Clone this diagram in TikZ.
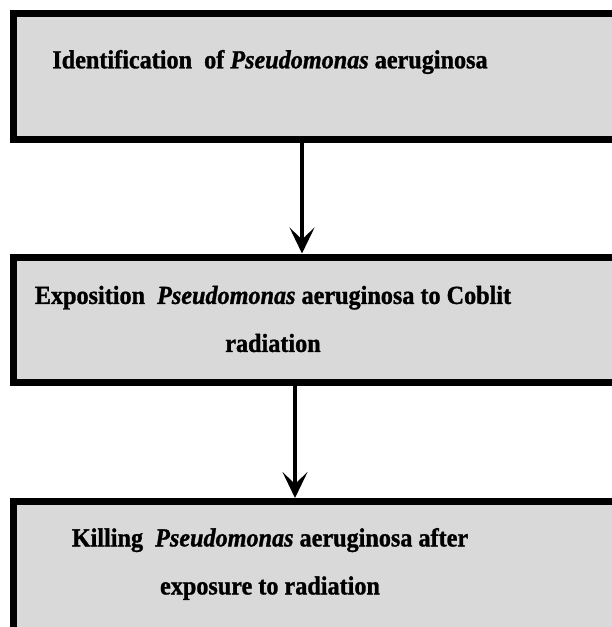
\documentclass[tikz,border=0pt]{standalone}
\usepackage{fontspec}
\setmainfont{Liberation Serif}[FakeStretch=0.93, BoldFeatures={FakeBold=1.2}, BoldItalicFeatures={FakeBold=1.2}]
\usetikzlibrary{arrows.meta}
\definecolor{boxgrey}{HTML}{D9D9D9}
\tikzset{
  flowbox/.style={draw=black, line width=7pt, fill=boxgrey, rectangle, inner sep=0pt},
  flowtext/.style={align=center, font=\fontsize{26pt}{48pt}\selectfont\bfseries, inner sep=0pt, text=black},
  flowarrow/.style={line width=4.5pt, -{Stealth[length=26pt, width=25pt, inset=12pt]}}
}
\begin{document}
\begin{tikzpicture}[x=1pt, y=-1pt]
\useasboundingbox (0,0) rectangle (612,627);
\clip (0,0) rectangle (612,627);
\fill[white] (0,0) rectangle (612,627);
% boxes (extend beyond the right and bottom edges)
\node[flowbox, minimum width=646.5pt, minimum height=125.5pt] (b1) at (336.75,76.25) {};
\node[flowbox, minimum width=646.5pt, minimum height=125.5pt] (b2) at (336.75,319.75) {};
\node[flowbox, minimum width=646.5pt, minimum height=160pt] (b3) at (336.75,581.5) {};
% texts
\node[flowtext] (t1) at (270,62) {Identification\ \ of \textit{Pseudomonas} aeruginosa};
\node[flowtext] (t2) at (273,319) {Exposition\ \ \textit{Pseudomonas} aeruginosa\ to Coblit\\radiation};
\node[flowtext] (t3) at (270,564) {Killing\ \ \textit{Pseudomonas} aeruginosa\ after\\exposure to radiation};
% arrows
\coordinate (c1) at (302,200);
\coordinate (c2) at (295,440);
\draw[flowarrow] (c1 |- b1.south) -- (c1 |- b2.north);
\draw[flowarrow] (c2 |- b2.south) -- (c2 |- b3.north);
\end{tikzpicture}
\end{document}
